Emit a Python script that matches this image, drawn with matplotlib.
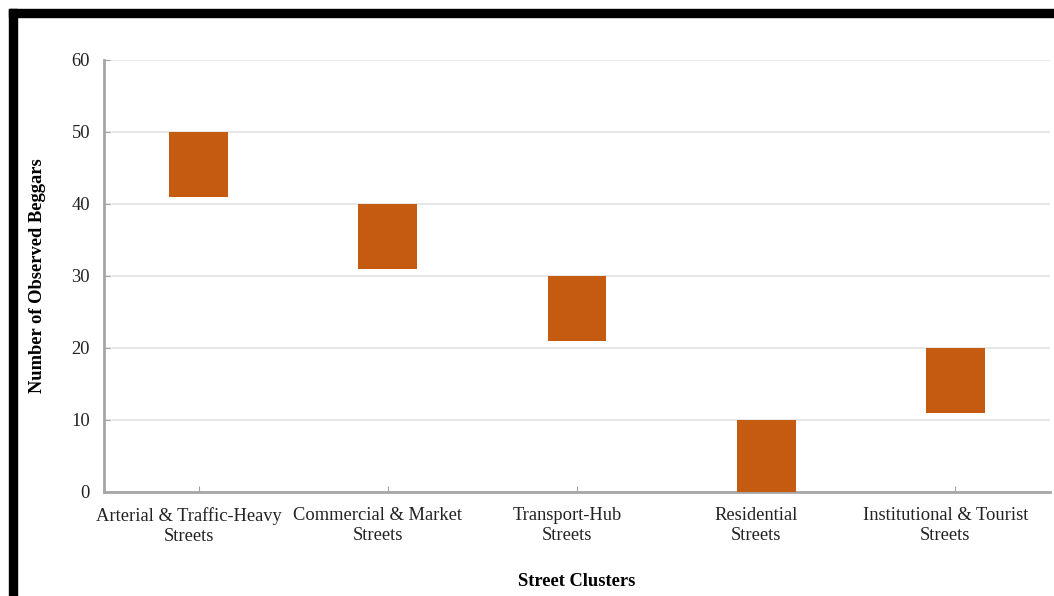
import matplotlib
matplotlib.use("Agg")
import matplotlib.pyplot as plt
from matplotlib.patches import Rectangle
import numpy as np

categories = ["Arterial & Traffic-Heavy\nStreets", "Commercial & Market\nStreets",
              "Transport-Hub\nStreets", "Residential\nStreets",
              "Institutional & Tourist\nStreets"]
range_low = [41, 31, 21, 0, 11]
range_high = [50, 40, 30, 10, 20]
y_ticks = [0, 10, 20, 30, 40, 50, 60]

plt.rcParams['font.family'] = ['Liberation Serif', 'DejaVu Serif']

W, H = 1054, 596
fig = plt.figure(figsize=(W / 100, H / 100), dpi=100)
ax = fig.add_axes([104 / W, 1 - 492 / H, (1050 - 104) / W, (492 - 60) / H])

x = np.arange(len(categories))
heights = np.array(range_high) - np.array(range_low)
ax.bar(x, heights, bottom=range_low, width=0.31, color="#C55A11", zorder=3)

ax.set_xlim(-0.5, len(categories) - 0.5)
ax.set_ylim(0, 60)
ax.set_yticks(y_ticks)
ax.grid(axis='y', color='#e3e3e3', linewidth=1.2, zorder=0)
# major ticks at category centres (marks only), labels on slightly shifted minor ticks
ax.set_xticks(x)
ax.set_xticklabels([""] * len(categories))
ax.set_xticks(x - 0.053, minor=True)
ax.set_xticklabels(categories, minor=True, fontsize=13.3, color='#222222', linespacing=1.2)
ax.tick_params(axis='y', labelsize=13.3, colors='#222222', length=4, direction='in', color='#a0a0a0', pad=10)
ax.tick_params(axis='x', which='major', length=4, direction='in', color='#a0a0a0')
ax.tick_params(axis='x', which='minor', length=0, pad=11)

for s in ['top', 'right']:
    ax.spines[s].set_visible(False)
for s in ['left', 'bottom']:
    ax.spines[s].set_color('#a6a6a6')
    ax.spines[s].set_linewidth(2)

ax.set_ylabel("Number of Observed Beggars", fontsize=13.3, fontweight='bold', labelpad=18)
ax.set_xlabel("Street Clusters", fontsize=13.3, fontweight='bold', labelpad=20)

# black frame at top and left
fig.patches.append(Rectangle((9 / W, 1 - 17 / H), 1 - 9 / W, 8 / H, transform=fig.transFigure,
                             color='black', zorder=10))
fig.patches.append(Rectangle((9 / W, 0), 8 / W, 1 - 9 / H, transform=fig.transFigure,
                             color='black', zorder=10))

fig.savefig("out.png", dpi=100)
